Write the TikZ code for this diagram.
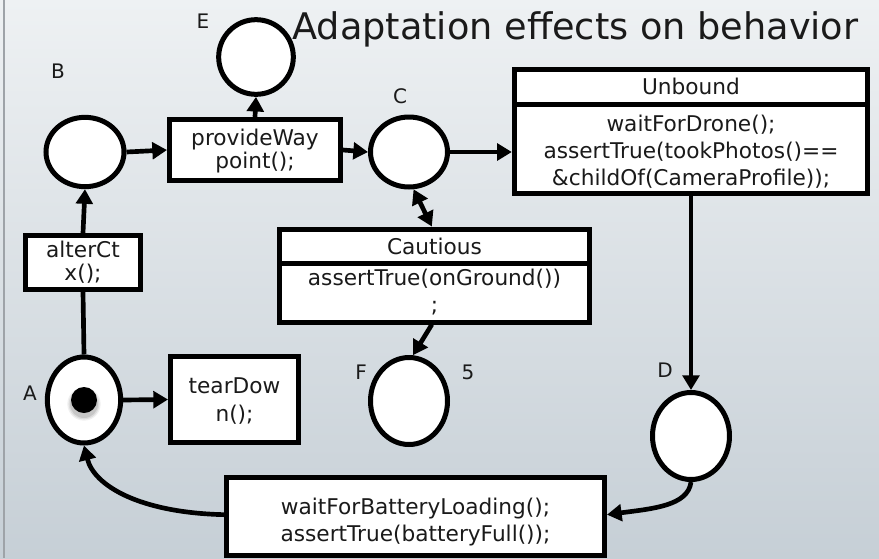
\documentclass[tikz,border=0pt]{standalone}
\usepackage{fontspec}
\setmainfont{DejaVu Sans}
\usetikzlibrary{shapes.geometric,arrows.meta}
\definecolor{bgtop}{HTML}{EEF1F3}
\definecolor{bgbot}{HTML}{C6CFD6}
\definecolor{edgecol}{HTML}{9EA3A8}
\definecolor{ink}{HTML}{1A1A1A}
\newcommand\lowered[2]{\raisebox{-#1}[\height][\depth]{\begin{tabular}{@{}c@{}}#2\end{tabular}}}
\begin{document}
\begin{tikzpicture}[x=0.75pt,y=-0.75pt,
  place/.style={ellipse,draw=black,line width=3.75pt,fill=white,inner sep=0pt},
  trans/.style={rectangle,draw=black,line width=3.75pt,fill=white,inner sep=0pt,align=center,text=ink,
    font=\fontsize{16.25}{20.5}\selectfont},
  tight/.style={font=\fontsize{16.25}{17.5}\selectfont},
  arc/.style={line width=3.5pt,-{Triangle[length=11pt,width=12.5pt]}},
  biarc/.style={line width=3.5pt,{Triangle[length=11pt,width=12.5pt]}-{Triangle[length=11pt,width=12.5pt]}},
  plain/.style={line width=3.5pt},
  lbl/.style={text=ink,font=\fontsize{15}{17}\selectfont,inner sep=0pt}]
% background
\shade[top color=bgtop,bottom color=bgbot] (0,0) rectangle (879,558);
\useasboundingbox (0,0) rectangle (879,558);
\draw[edgecol,line width=1.1pt] (4,0) -- (4,558);

% places
\node[place,minimum width=56pt,minimum height=56pt] (E) at (256,57) {};
\node[place,minimum width=58.5pt,minimum height=52pt] (B) at (85,152) {};
\node[place,minimum width=57.75pt,minimum height=52.5pt] (C) at (409,152) {};
\node[place,minimum width=55pt,minimum height=64.5pt] (A) at (84,400) {};
\node[place,minimum width=57.75pt,minimum height=65.25pt] (F) at (409,401) {};
\node[place,minimum width=57.75pt,minimum height=65.25pt] (D) at (691,436) {};

% token with soft shadow
\foreach \r/\o in {12.5pt/0.06,11.5pt/0.08,10.5pt/0.10}{
  \fill[black,opacity=\o] ([yshift=-3pt]A.center) circle[radius=\r];}
\fill[black] (A.center) circle[radius=9.75pt];

% transitions
\node[trans,tight,minimum width=128.25pt,minimum height=46pt] (pw) at (255,150)
  {\lowered{1.5pt}{provideWay\\point();}};
\node[trans,tight,minimum width=86.25pt,minimum height=40.5pt] (ac) at (83,262.5) {alterCt\\x();};
\node[trans,minimum width=96pt,minimum height=64.5pt] (td) at (234.5,399.5)
  {\lowered{2pt}{tearDow\\n();}};
\node[trans,minimum width=265pt,minimum height=26.25pt] (uhead) at (691,86.5) {Unbound};
\node[trans,minimum width=265pt,minimum height=66.75pt] (ubody) at (691,149)
  {\lowered{3pt}{waitForDrone();\\assertTrue(tookPhotos()==\\\&childOf(CameraProfile));}};
\node[trans,minimum width=232.5pt,minimum height=25.5pt] (chead) at (434.5,246) {Cautious};
\node[trans,minimum width=232.5pt,minimum height=44.25pt] (cbody) at (434.5,292.5)
  {\lowered{1pt}{assertTrue(onGround())\\;}};
\node[trans,minimum width=283.5pt,minimum height=58.5pt] (wb) at (415.5,516)
  {\lowered{5pt}{waitForBatteryLoading();\\assertTrue(batteryFull());}};

% connectors
\draw[plain] (A.north) -- (ac.south);
\draw[arc] (ac.north) -- (B.south);
\draw[arc] (B.east) -- (pw.west);
\draw[arc] (pw.north) -- (E.south);
\draw[arc] (pw.east) -- (C.west);
\draw[arc] (C.east) -- (C.east -| ubody.west);
\draw[biarc] (C.-83) -- ([xshift=-2pt]chead.north);
\draw[arc] ([xshift=-2pt]cbody.south) -- (F.85);
\draw[arc] (ubody.south) -- (D.north);
\draw[arc] (A.east) -- (td.west);
\draw[arc] (D.south) .. controls +(-3,24) and +(45,-6) .. ([yshift=1pt]wb.east);
\draw[arc] ([yshift=1pt]wb.west) .. controls +(-85,-2) and +(10,40) .. (A.south);

% labels
\node[lbl] (lE) at (203,21) {E};
\node[lbl] (lB) at (58,71) {B};
\node[lbl] (lC) at (400,96) {C};
\node[lbl] (lA) at (30,393) {A};
\node[lbl] (lF) at (361,372) {F};
\node[lbl] (l5) at (468,372) {5};
\node[lbl] (lD) at (665,370) {D};

% title
\node[anchor=base west,inner sep=0pt,text=ink,font=\fontsize{27.5}{30}\selectfont] (title) at (292,39)
  {Adaptation effects on behavior};
\end{tikzpicture}
\end{document}
